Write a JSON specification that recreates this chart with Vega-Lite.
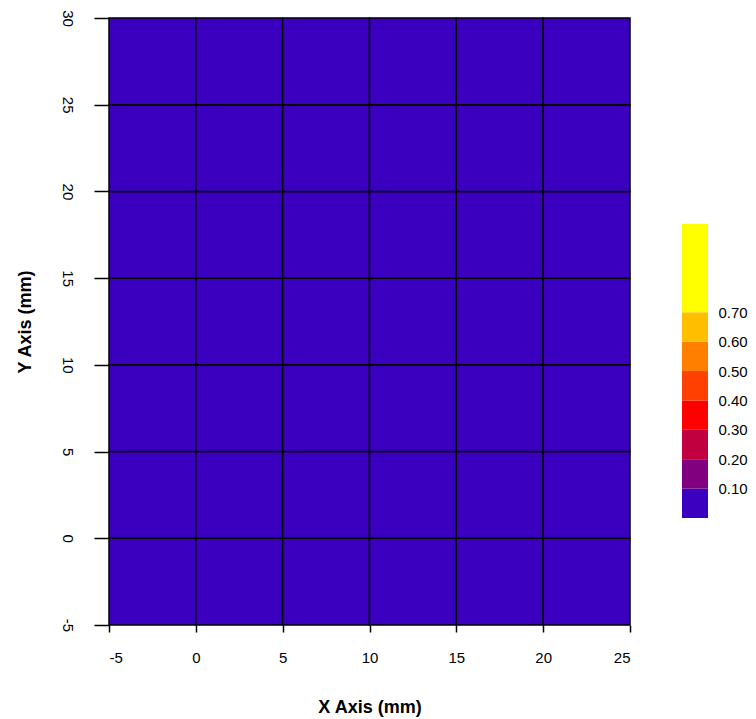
{
  "$schema": "https://vega.github.io/schema/vega-lite/v6.json",
  "background": "white",
  "padding": {"left": 16, "top": 9, "right": 5, "bottom": 5},
  "config": {
    "view": {"stroke": null},
    "axis": {"labelFont": "Liberation Sans", "labelFontSize": 15, "labelColor": "black", "titleFont": "Liberation Sans", "titleFontSize": 18, "titleFontWeight": "bold", "titleColor": "black", "grid": false, "domain": false, "tickColor": "black", "tickWidth": 1.5}
  },
  "spacing": 51,
  "datasets": {
    "cells": [
      {"x0": -5, "x1": 0, "y0": -5, "y1": 0, "v": 0.02}, {"x0": 0, "x1": 5, "y0": -5, "y1": 0, "v": 0.02}, {"x0": 5, "x1": 10, "y0": -5, "y1": 0, "v": 0.02}, {"x0": 10, "x1": 15, "y0": -5, "y1": 0, "v": 0.02}, {"x0": 15, "x1": 20, "y0": -5, "y1": 0, "v": 0.02}, {"x0": 20, "x1": 25, "y0": -5, "y1": 0, "v": 0.02},
      {"x0": -5, "x1": 0, "y0": 0, "y1": 5, "v": 0.02}, {"x0": 0, "x1": 5, "y0": 0, "y1": 5, "v": 0.02}, {"x0": 5, "x1": 10, "y0": 0, "y1": 5, "v": 0.02}, {"x0": 10, "x1": 15, "y0": 0, "y1": 5, "v": 0.02}, {"x0": 15, "x1": 20, "y0": 0, "y1": 5, "v": 0.02}, {"x0": 20, "x1": 25, "y0": 0, "y1": 5, "v": 0.02},
      {"x0": -5, "x1": 0, "y0": 5, "y1": 10, "v": 0.02}, {"x0": 0, "x1": 5, "y0": 5, "y1": 10, "v": 0.02}, {"x0": 5, "x1": 10, "y0": 5, "y1": 10, "v": 0.02}, {"x0": 10, "x1": 15, "y0": 5, "y1": 10, "v": 0.02}, {"x0": 15, "x1": 20, "y0": 5, "y1": 10, "v": 0.02}, {"x0": 20, "x1": 25, "y0": 5, "y1": 10, "v": 0.02},
      {"x0": -5, "x1": 0, "y0": 10, "y1": 15, "v": 0.02}, {"x0": 0, "x1": 5, "y0": 10, "y1": 15, "v": 0.02}, {"x0": 5, "x1": 10, "y0": 10, "y1": 15, "v": 0.02}, {"x0": 10, "x1": 15, "y0": 10, "y1": 15, "v": 0.02}, {"x0": 15, "x1": 20, "y0": 10, "y1": 15, "v": 0.02}, {"x0": 20, "x1": 25, "y0": 10, "y1": 15, "v": 0.02},
      {"x0": -5, "x1": 0, "y0": 15, "y1": 20, "v": 0.02}, {"x0": 0, "x1": 5, "y0": 15, "y1": 20, "v": 0.02}, {"x0": 5, "x1": 10, "y0": 15, "y1": 20, "v": 0.02}, {"x0": 10, "x1": 15, "y0": 15, "y1": 20, "v": 0.02}, {"x0": 15, "x1": 20, "y0": 15, "y1": 20, "v": 0.02}, {"x0": 20, "x1": 25, "y0": 15, "y1": 20, "v": 0.02},
      {"x0": -5, "x1": 0, "y0": 20, "y1": 25, "v": 0.02}, {"x0": 0, "x1": 5, "y0": 20, "y1": 25, "v": 0.02}, {"x0": 5, "x1": 10, "y0": 20, "y1": 25, "v": 0.02}, {"x0": 10, "x1": 15, "y0": 20, "y1": 25, "v": 0.02}, {"x0": 15, "x1": 20, "y0": 20, "y1": 25, "v": 0.02}, {"x0": 20, "x1": 25, "y0": 20, "y1": 25, "v": 0.02},
      {"x0": -5, "x1": 0, "y0": 25, "y1": 30, "v": 0.02}, {"x0": 0, "x1": 5, "y0": 25, "y1": 30, "v": 0.02}, {"x0": 5, "x1": 10, "y0": 25, "y1": 30, "v": 0.02}, {"x0": 10, "x1": 15, "y0": 25, "y1": 30, "v": 0.02}, {"x0": 15, "x1": 20, "y0": 25, "y1": 30, "v": 0.02}, {"x0": 20, "x1": 25, "y0": 25, "y1": 30, "v": 0.02}
    ],
    "bands": [
      {"lo": 0.0, "hi": 0.1, "v": 0.05},
      {"lo": 0.1, "hi": 0.2, "v": 0.15},
      {"lo": 0.2, "hi": 0.3, "v": 0.25},
      {"lo": 0.3, "hi": 0.4, "v": 0.35},
      {"lo": 0.4, "hi": 0.5, "v": 0.45},
      {"lo": 0.5, "hi": 0.6, "v": 0.55},
      {"lo": 0.6, "hi": 0.7, "v": 0.65},
      {"lo": 0.7, "hi": 1.0, "v": 0.85}
    ]
  },
  "resolve": {"scale": {"color": "shared"}},
  "hconcat": [
    {
      "width": 521,
      "height": 607,
      "data": {"name": "cells"},
      "mark": {"type": "rect", "stroke": "black", "strokeWidth": 1.5},
      "encoding": {
        "x": {"field": "x0", "type": "quantitative", "scale": {"domain": [-5, 25], "nice": false, "zero": false},
              "axis": {"values": [-5, 0, 5, 10, 15, 20, 25], "tickSize": 7, "labelPadding": 18, "labelExpr": "replace(datum.label, '−', '-')", "title": "X Axis (mm)", "titlePadding": 33}},
        "x2": {"field": "x1"},
        "y": {"field": "y0", "type": "quantitative", "scale": {"domain": [-5, 30], "nice": false, "zero": false},
              "axis": {"values": [-5, 0, 5, 10, 15, 20, 25, 30], "tickSize": 15, "labelPadding": 20, "labelAngle": 90, "labelExpr": "replace(datum.label, '−', '-')", "title": "Y Axis (mm)", "titlePadding": 25}},
        "y2": {"field": "y1"},
        "color": {"field": "v", "type": "quantitative",
                  "scale": {"type": "threshold", "domain": [0.1, 0.2, 0.3, 0.4, 0.5, 0.6, 0.7],
                            "range": ["#3b00bf", "#800080", "#c0003f", "#ff0000", "#ff4000", "#ff8000", "#ffbf00", "#ffff00"]},
                  "legend": null}
      }
    },
    {
      "width": 26,
      "height": 607,
      "data": {"name": "bands"},
      "mark": {"type": "rect"},
      "encoding": {
        "y": {"field": "lo", "type": "quantitative", "scale": {"domain": [-0.364, 1.701], "nice": false, "zero": false},
              "axis": {"orient": "right", "values": [0.1, 0.2, 0.3, 0.4, 0.5, 0.6, 0.7], "format": ".2f", "ticks": false, "labelPadding": 10, "title": null}},
        "y2": {"field": "hi"},
        "color": {"field": "v", "type": "quantitative",
                  "scale": {"type": "threshold", "domain": [0.1, 0.2, 0.3, 0.4, 0.5, 0.6, 0.7],
                            "range": ["#3b00bf", "#800080", "#c0003f", "#ff0000", "#ff4000", "#ff8000", "#ffbf00", "#ffff00"]},
                  "legend": null}
      }
    }
  ]
}
